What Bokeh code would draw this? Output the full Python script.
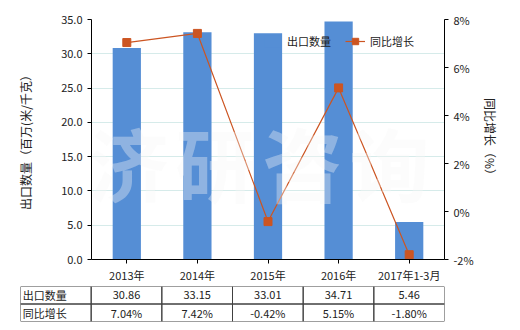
from bokeh.plotting import figure
from bokeh.models import (FactorRange, Range1d, LinearAxis, PrintfTickFormatter,
                          Legend, LegendItem, Label)
from bokeh.layouts import column, row
from bokeh.embed import file_html
from bokeh.resources import INLINE
from bokeh.core.properties import value

categories = ["2013年", "2014年", "2015年", "2016年", "2017年1-3月"]
export_qty = [30.86, 33.15, 33.01, 34.71, 5.46]
yoy_growth = [7.04, 7.42, -0.42, 5.15, -1.80]
qty_labels = ["30.86", "33.15", "33.01", "34.71", "5.46"]
growth_labels = ["7.04%", "7.42%", "-0.42%", "5.15%", "-1.80%"]
row_names = ["出口数量", "同比增长"]
left_ticks = [0, 5, 10, 15, 20, 25, 30, 35]
right_ticks = [-2, 0, 2, 4, 6, 8]
watermark = ["济", "研", "咨", "询"]

FONT = "Noto Sans CJK SC"
BAR = "#558ed5"
LINE = "#cc5522"

p = figure(x_range=FactorRange(*categories), y_range=Range1d(0, 35),
           width=520, height=286, output_backend="svg", toolbar_location=None,
           min_border_left=91, min_border_right=76, min_border_top=19, min_border_bottom=27)
p.extra_y_ranges = {"pct": Range1d(-2, 8)}
p.outline_line_color = None
p.background_fill_color = "white"
p.border_fill_color = "white"

bars = p.vbar(x=categories, top=export_qty, width=0.4, color=BAR, line_color=None)

# watermark
for i, ch in enumerate(watermark):
    lab = Label(x=37 + i * 87, y=99, x_units="screen", y_units="screen", text=ch,
                text_font=FONT, text_font_size="80px", text_font_style="bold",
                text_color="#f6f6f6", text_alpha=0.36, text_align="center",
                text_baseline="middle", level="glyph")
    p.add_layout(lab)

ln = p.line(x=categories, y=yoy_growth, y_range_name="pct", line_color=LINE, line_width=1.2)
sc = p.scatter(x=categories, y=yoy_growth, y_range_name="pct", marker="square",
               size=8, color=LINE)

# grid
p.xgrid.grid_line_color = None
p.ygrid.grid_line_color = "#d6ebea"
p.ygrid.ticker = left_ticks

# left axis
la = p.yaxis[0]
la.ticker = left_ticks
la.formatter = PrintfTickFormatter(format="%.1f")
la.axis_label = "出口数量（百万(米/千克）"
la.axis_label_standoff = 24

ra = LinearAxis(y_range_name="pct", ticker=right_ticks,
                formatter=PrintfTickFormatter(format="%d%%"),
                axis_label="同比增长（%）", axis_label_standoff=5)
p.add_layout(ra, "right")

for ax in [la, ra, p.xaxis[0]]:
    ax.axis_line_color = "black"
    ax.major_tick_line_color = "black"
    ax.minor_tick_line_color = None
    ax.major_tick_out = 4
    ax.major_tick_in = 0
    ax.major_label_text_font = FONT
    ax.major_label_text_font_size = "11px"
    ax.major_label_text_color = "#222222"
    ax.axis_label_text_font = FONT
    ax.axis_label_text_font_size = "12px"
    ax.axis_label_text_font_style = "normal"
    ax.axis_label_text_color = "#222222"
p.xaxis[0].major_label_standoff = 3

legend = Legend(items=[LegendItem(label="出口数量", renderers=[bars]),
                       LegendItem(label="同比增长", renderers=[ln, sc])],
                orientation="horizontal", location=(171, 210),
                background_fill_alpha=0, border_line_color=None,
                padding=0, margin=0, spacing=14, label_standoff=5,
                glyph_width=20, glyph_height=16,
                label_text_font=FONT, label_text_font_size="11px",
                label_text_color="#222222")
p.add_layout(legend)

# table
tcols = ["_row"] + categories
t = figure(x_range=FactorRange(*tcols), y_range=Range1d(0, 2),
           width=520, height=44, output_backend="svg", toolbar_location=None,
           min_border_left=20, min_border_right=76, min_border_top=0, min_border_bottom=9)
t.axis.visible = False
t.grid.visible = False
t.outline_line_color = None

cell_x, cell_y = [], []
for c in tcols:
    for r in [1.5, 0.5]:
        cell_x.append(c)
        cell_y.append(r)
t.rect(x=cell_x, y=cell_y, width=1, height=1, fill_color=None, line_color="#404040", line_width=1)

t.text(x=["_row", "_row"], y=[1.5, 0.5], text=row_names, x_offset=-33,
       text_align="left", text_baseline="middle", text_font=value(FONT),
       text_font_size="11px", text_color="#222222")
t.text(x=categories, y=[1.5] * len(categories), text=qty_labels,
       text_align="center", text_baseline="middle", text_font=value(FONT),
       text_font_size="11px", text_color="#222222")
t.text(x=categories, y=[0.5] * len(categories), text=growth_labels,
       text_align="center", text_baseline="middle", text_font=value(FONT),
       text_font_size="11px", text_color="#222222")

layout = column(p, row(t), spacing=0)
open("out.html", "w").write(file_html(layout, INLINE))
